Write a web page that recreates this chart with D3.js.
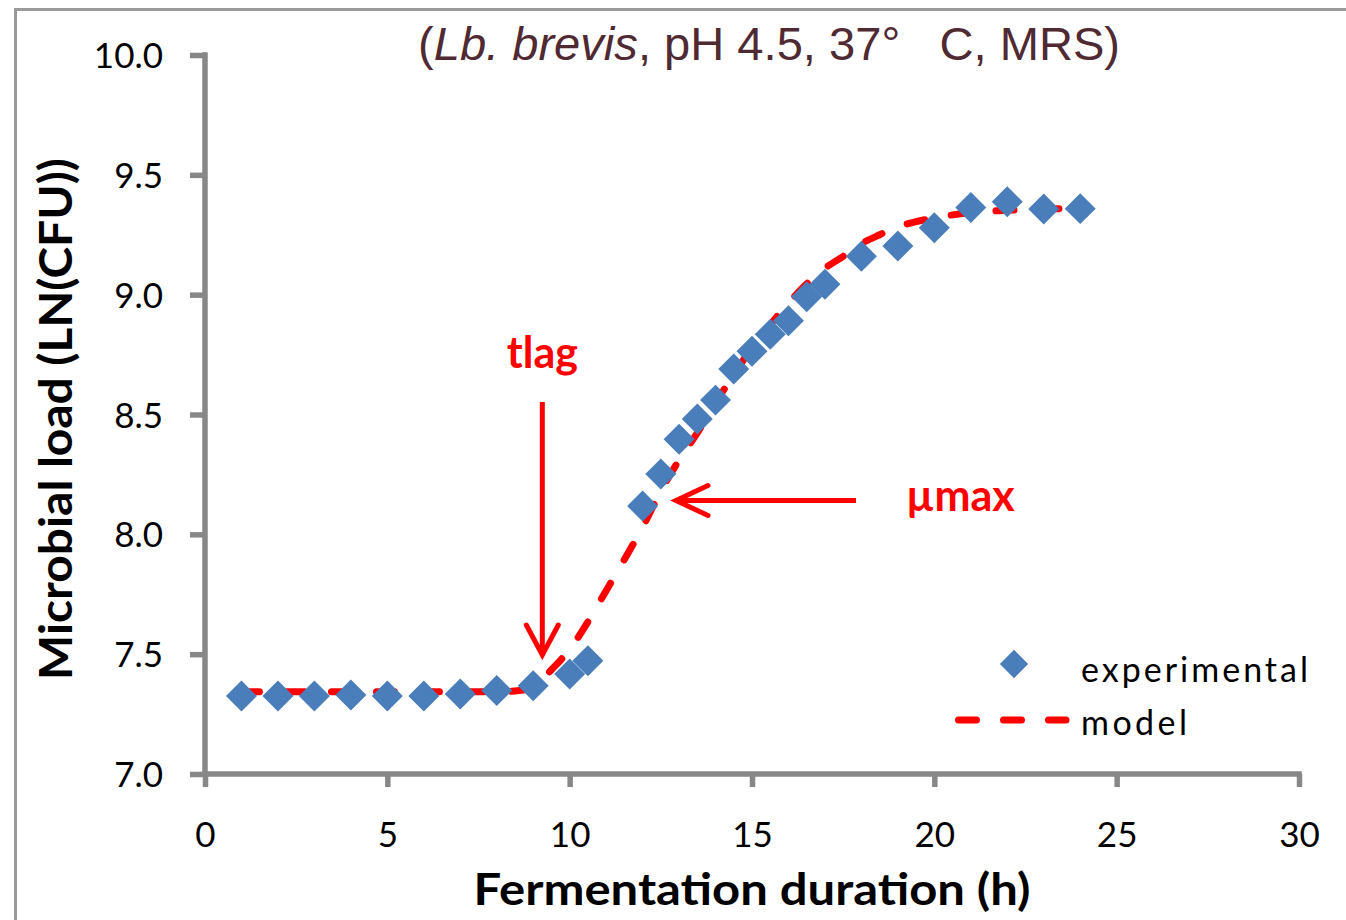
<!DOCTYPE html>
<html>
<head>
<meta charset="utf-8">
<script src="https://cdn.jsdelivr.net/npm/d3@7/dist/d3.min.js"></script>
<style>
  html, body { margin: 0; padding: 0; background: #fff; }
  svg { display: block; }
</style>
</head>
<body>
<svg id="chart" width="1346" height="920"></svg>
<script>
// ---- data ----
const expTime = [1, 2, 3, 4, 5, 6, 7, 8, 9, 10, 10.5, 12, 12.5, 13, 13.5, 14, 14.5, 15, 15.5, 16, 16.5, 17, 18, 19, 20, 21, 22, 23, 24];
const expLoad = [7.325, 7.325, 7.325, 7.33, 7.325, 7.325, 7.334, 7.348, 7.368, 7.417, 7.473, 8.118, 8.252, 8.397, 8.481, 8.56, 8.69, 8.764, 8.835, 8.891, 8.991, 9.043, 9.16, 9.203, 9.279, 9.364, 9.388, 9.357, 9.359];
const modelTime = [1, 2, 3, 4, 5, 6, 7, 8, 8.5, 9, 9.5, 10, 10.5, 11, 11.5, 12, 12.5, 13, 13.5, 14, 14.5, 15, 15.5, 16, 16.5, 17, 17.5, 18, 18.5, 19, 19.5, 20, 21, 22, 23, 24];
const modelLoad = [7.343, 7.343, 7.343, 7.343, 7.343, 7.343, 7.343, 7.343, 7.346, 7.36, 7.435, 7.52, 7.635, 7.765, 7.895, 8.03, 8.18, 8.31, 8.423, 8.55, 8.665, 8.78, 8.875, 8.965, 9.045, 9.11, 9.16, 9.213, 9.25, 9.283, 9.305, 9.32, 9.343, 9.352, 9.357, 9.36];
const xTicks = [0, 5, 10, 15, 20, 25, 30];
const yTicks = [7.0, 7.5, 8.0, 8.5, 9.0, 9.5, 10.0];
const seriesNames = ["experimental", "model"];
const annotations = [
  {label: "tlag", t: 9.25, y: 7.37},
  {label: "\u00b5max", t: 12.7, y: 8.15}
];

// ---- layout ----
const svg = d3.select("#chart");
const x = d3.scaleLinear().domain([0, 30]).range([205, 1299]);
const y = d3.scaleLinear().domain([7, 10]).range([774, 55]);
const axisColor = "#878787";
const blue = "#4a7ebb";
const red = "#ff0000";
const tickFont = "Lato, 'Open Sans', sans-serif";

// outer frame
svg.append("rect")
  .attr("x", 15.5).attr("y", 9.5)
  .attr("width", 1400).attr("height", 1000)
  .attr("fill", "none").attr("stroke", "#9a9a9a").attr("stroke-width", 3);

// axes
const gx = svg.append("g").attr("transform", `translate(0,${y(7)})`)
  .call(d3.axisBottom(x).tickValues(xTicks).tickSize(13).tickSizeOuter(0).tickFormat(d3.format("d")));
const gy = svg.append("g").attr("transform", `translate(${x(0)},0)`)
  .call(d3.axisLeft(y).tickValues(yTicks).tickSize(15).tickSizeOuter(0).tickFormat(d3.format(".1f")));

[gx, gy].forEach(g => {
  g.select(".domain").attr("stroke", axisColor).attr("stroke-width", 5.5);
  g.selectAll(".tick line").attr("stroke", axisColor).attr("stroke-width", 5.5);
  g.selectAll(".tick text").attr("fill", "#000").style("font-family", tickFont).style("font-size", "35px");
});
gx.select(".domain").attr("d", `M${-2.75 + x(0)},0H${x(30) + 2.75}`);
gy.select(".domain").attr("d", `M0,${y(10) - 2.75}V${y(7) + 2.75}`);
gx.selectAll(".tick text").attr("dy", null).attr("y", 73);
gy.selectAll(".tick text").attr("dy", "0.36em").attr("x", -42);

// axis titles
svg.append("text")
  .attr("x", 752).attr("y", 905)
  .attr("text-anchor", "middle")
  .style("font-family", tickFont).style("font-weight", "bold").style("font-size", "44px")
  .attr("textLength", 557).attr("lengthAdjust", "spacingAndGlyphs")
  .text("Fermentation duration (h)");

svg.append("text")
  .attr("transform", "translate(72,419) rotate(-90)")
  .attr("text-anchor", "middle")
  .style("font-family", tickFont).style("font-weight", "bold").style("font-size", "46px")
  .attr("textLength", 522).attr("lengthAdjust", "spacingAndGlyphs")
  .text("Microbial load (LN(CFU))");

// title
const title = svg.append("text")
  .attr("x", 418).attr("y", 60)
  .attr("fill", "#4f2a33")
  .attr("textLength", 702).attr("lengthAdjust", "spacingAndGlyphs")
  .style("font-family", "'Liberation Sans', Arial, sans-serif").style("font-size", "47px");
title.append("tspan").text("(");
title.append("tspan").style("font-style", "italic").text("Lb. brevis");
title.append("tspan").text(", pH 4.5, 37\u00b0\u00a0\u00a0\u00a0C, MRS)");

// model line
const modelData = modelTime.map((t, i) => ({t, v: modelLoad[i]}));
const line = d3.line().x(d => x(d.t)).y(d => y(d.v)).curve(d3.curveMonotoneX);
svg.append("path")
  .datum(modelData)
  .attr("d", line)
  .attr("fill", "none").attr("stroke", red).attr("stroke-width", 7)
  .attr("stroke-linecap", "round").attr("stroke-dasharray", "18 27");

// experimental points (diamonds)
const expData = expTime.map((t, i) => ({t, v: expLoad[i]}));
const diamond = d3.symbol().type(d3.symbolSquare).size(480);
svg.append("g").selectAll("path")
  .data(expData).join("path")
  .attr("d", diamond)
  .attr("transform", d => `translate(${x(d.t)},${y(d.v)}) rotate(45)`)
  .attr("fill", blue);

// annotations
const annoFont = "Lato, 'Open Sans', sans-serif";
const tl = annotations[0];
const tlx = x(tl.t);
svg.append("text").attr("x", tlx).attr("y", 368).attr("text-anchor", "middle")
  .attr("fill", red).style("font-family", annoFont).style("font-weight", "bold").style("font-size", "43px")
  .text(tl.label);
const tipY = 655;
svg.append("line").attr("x1", tlx).attr("x2", tlx).attr("y1", 402).attr("y2", tipY)
  .attr("stroke", red).attr("stroke-width", 5);
svg.append("path").attr("d", `M${tlx - 16},${tipY - 30}L${tlx},${tipY}L${tlx + 16},${tipY - 30}`)
  .attr("fill", "none").attr("stroke", red).attr("stroke-width", 5).attr("stroke-linecap", "round");
const um = annotations[1];
const tipX = 676, umY = 500.5;
svg.append("line").attr("x1", 856).attr("x2", tipX + 2).attr("y1", umY).attr("y2", umY)
  .attr("stroke", red).attr("stroke-width", 5);
svg.append("path").attr("d", `M${tipX + 32},${umY - 15}L${tipX},${umY}L${tipX + 32},${umY + 15}`)
  .attr("fill", "none").attr("stroke", red).attr("stroke-width", 5).attr("stroke-linecap", "round");
svg.append("text").attr("x", 906).attr("y", 511)
  .attr("fill", red).style("font-family", annoFont).style("font-weight", "bold").style("font-size", "43px")
  .text(um.label);

// legend
const lg = svg.append("g");
lg.append("path").attr("d", d3.symbol().type(d3.symbolSquare).size(400))
  .attr("transform", "translate(1014,664) rotate(45)").attr("fill", blue);
lg.append("text").attr("x", 1081).attr("y", 682)
  .style("font-family", tickFont).style("font-size", "34px")
  .attr("textLength", 227).attr("lengthAdjust", "spacing")
  .text(seriesNames[0]);
lg.append("line").attr("x1", 958.5).attr("x2", 1066).attr("y1", 720).attr("y2", 720)
  .attr("stroke", red).attr("stroke-width", 7).attr("stroke-linecap", "round").attr("stroke-dasharray", "18 27");
lg.append("text").attr("x", 1081).attr("y", 735)
  .style("font-family", tickFont).style("font-size", "34px")
  .attr("textLength", 106).attr("lengthAdjust", "spacing")
  .text(seriesNames[1]);
</script>
</body>
</html>
